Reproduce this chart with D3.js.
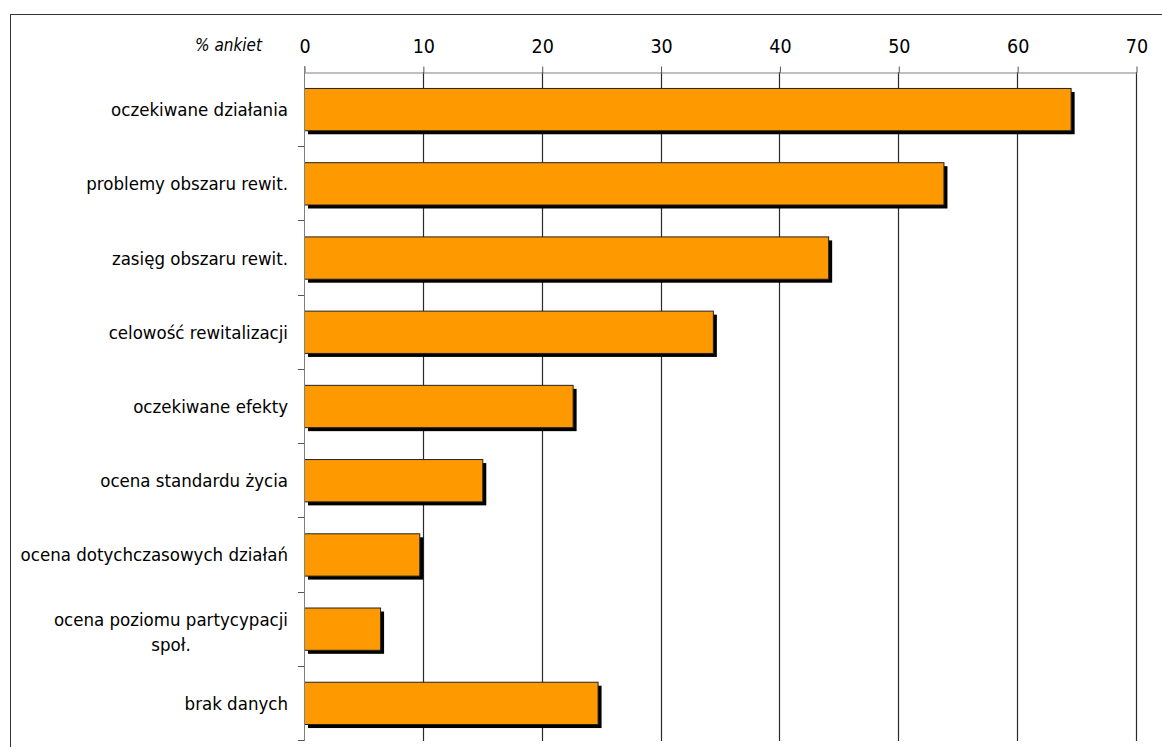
<!DOCTYPE html>
<html>
<head>
<meta charset="utf-8">
<script src="https://cdn.jsdelivr.net/npm/d3@7"></script>
<style>
  html, body { margin: 0; padding: 0; background: #fff; }
  svg { display: block; }
  text { font-family: "DejaVu Sans Condensed", "DejaVu Sans", sans-serif; fill: #000; }
</style>
</head>
<body>
<svg id="chart" width="1162" height="747"></svg>
<script>
// Tematy poruszane w ankietach (% ankiet)
const categories = [
  "oczekiwane działania",
  "problemy obszaru rewit.",
  "zasięg obszaru rewit.",
  "celowość rewitalizacji",
  "oczekiwane efekty",
  "ocena standardu życia",
  "ocena dotychczasowych działań",
  "ocena poziomu partycypacji społ.",
  "brak danych"
];
const values = [64.5, 53.8, 44.1, 34.4, 22.6, 15.0, 9.7, 6.4, 24.7];
const xTicks = [0, 10, 20, 30, 40, 50, 60, 70];
const axisTitle = "% ankiet";

const svg = d3.select("#chart");
const plot = { left: 304, right: 1136, top: 72, bottom: 740 };
const fontStack = "'DejaVu Sans Condensed', 'DejaVu Sans', sans-serif";

// outer frame
svg.append("rect")
  .attr("x", 10.5).attr("y", 14.5)
  .attr("width", 1200).attr("height", 800)
  .attr("fill", "none").attr("stroke", "#333").attr("stroke-width", 1);

const x = d3.scaleLinear().domain([0, 70]).range([plot.left, plot.right]);
const y = d3.scaleBand().domain(categories).range([plot.top, plot.bottom])
  .paddingInner(0.43).paddingOuter(0.215);
const band = d3.scaleBand().domain(categories).range([plot.top, plot.bottom]);

// vertical gridlines
svg.append("g").selectAll("line").data(xTicks.filter(d => d > 0)).join("line")
  .attr("x1", d => Math.round(x(d)) + 0.5).attr("x2", d => Math.round(x(d)) + 0.5)
  .attr("y1", plot.top).attr("y2", plot.bottom + 1)
  .attr("stroke", "#2a2a2a").attr("stroke-width", 1.2);

// top value axis
const xAxis = d3.axisTop(x).tickValues(xTicks).tickSize(6).tickSizeOuter(0).tickPadding(14);
const gx = svg.append("g").attr("transform", `translate(0.5,${plot.top + 0.5})`).call(xAxis);
gx.select(".domain").attr("stroke", "#808080");
gx.selectAll(".tick line").attr("stroke", "#555");
gx.selectAll(".tick text").attr("font-size", 19.5).attr("fill", "#000")
  .style("font-family", fontStack);

svg.append("text")
  .attr("x", 262).attr("y", 51)
  .attr("text-anchor", "end")
  .attr("font-size", 17).attr("font-style", "italic")
  .text(axisTitle);

// bars: shadow first, then orange bar
const bars = svg.append("g");
bars.selectAll("rect.shadow").data(values).join("rect")
  .attr("class", "shadow")
  .attr("x", x(0) + 4)
  .attr("y", (d, i) => y(categories[i]) + 4)
  .attr("width", d => x(d) - x(0))
  .attr("height", y.bandwidth())
  .attr("fill", "#000");
bars.selectAll("rect.bar").data(values).join("rect")
  .attr("class", "bar")
  .attr("x", x(0) + 0.5)
  .attr("y", (d, i) => y(categories[i]) + 0.5)
  .attr("width", d => x(d) - x(0))
  .attr("height", y.bandwidth())
  .attr("fill", "#FF9900")
  .attr("stroke", "#222").attr("stroke-width", 1);

// category axis line and ticks at band boundaries
svg.append("line")
  .attr("x1", plot.left + 0.5).attr("x2", plot.left + 0.5)
  .attr("y1", plot.top - 6).attr("y2", plot.bottom + 1)
  .attr("stroke", "#808080");
const bounds = categories.map(c => band(c)).concat([plot.bottom]);
svg.append("g").selectAll("line").data(bounds.slice(1)).join("line")
  .attr("x1", plot.left - 6).attr("x2", plot.left)
  .attr("y1", d => Math.round(d) + 0.5).attr("y2", d => Math.round(d) + 0.5)
  .attr("stroke", "#555");

// category labels, wrapped when too long
const labelRight = 288;
const maxW = 275;
const labels = svg.append("g").attr("font-size", 18.5);
categories.forEach((c, i) => {
  const cy = band(c) + band.bandwidth() / 2;
  const t = labels.append("text").attr("text-anchor", "end").attr("x", labelRight).text(c);
  const w = t.node().getComputedTextLength();
  if (w <= maxW) {
    t.attr("y", cy + 7);
  } else {
    t.remove();
    const words = c.split(" ");
    const line2 = words.pop();
    const line1 = words.join(" ");
    const t1 = labels.append("text").attr("text-anchor", "end").attr("x", labelRight).attr("y", cy - 3).text(line1);
    const w1 = t1.node().getComputedTextLength();
    labels.append("text").attr("text-anchor", "middle")
      .attr("x", labelRight - w1 / 2).attr("y", cy + 22).text(line2);
  }
});
</script>
</body>
</html>
